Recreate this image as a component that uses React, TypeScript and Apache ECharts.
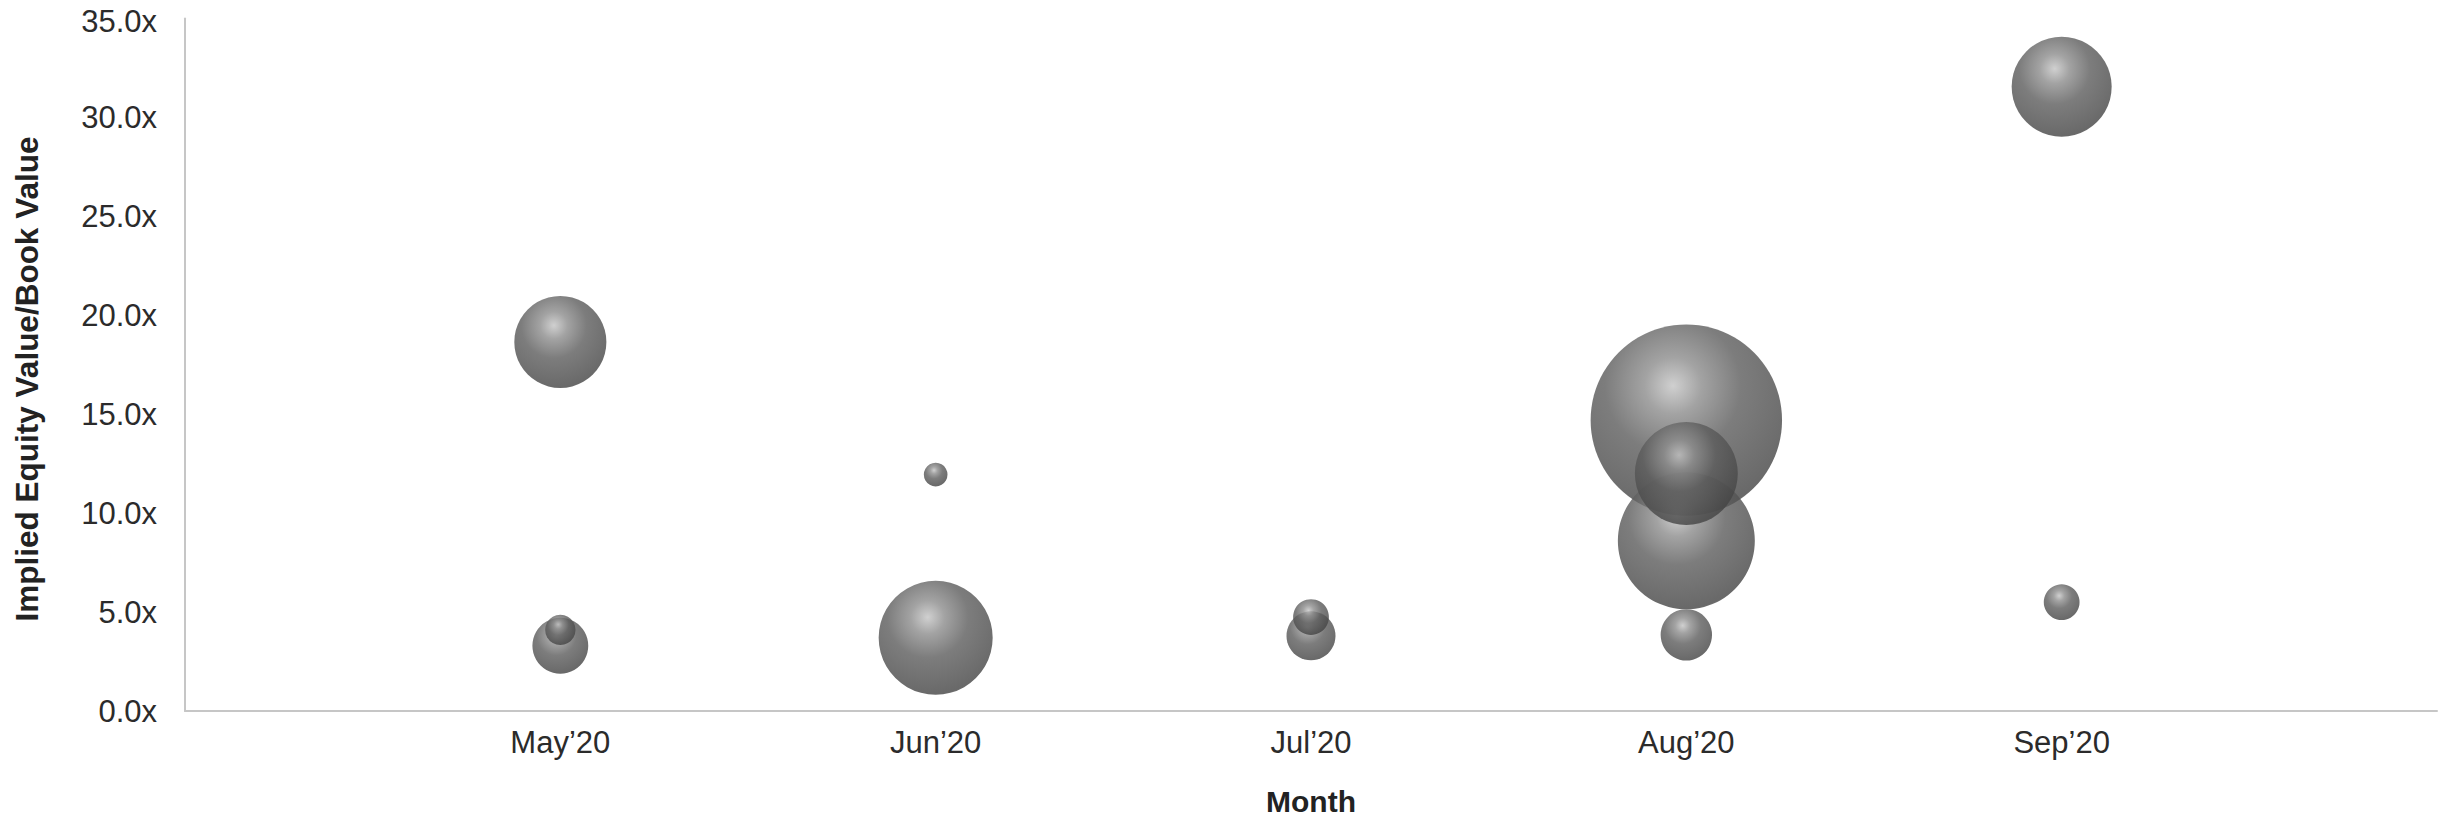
import React, { useEffect, useRef } from "react";
import * as echarts from "echarts";

// Month buckets shown along the horizontal axis
const months = ["May\u201920", "Jun\u201920", "Jul\u201920", "Aug\u201920", "Sep\u201920"];

// Each transaction: month position (1 = May'20), implied equity value / book value multiple, and bubble size
const dealMonth = [1, 1, 1, 2, 2, 3, 3, 4, 4, 4, 4, 5, 5];
const dealMultiple = [18.65, 3.3, 4.1, 11.95, 3.7, 4.75, 3.8, 14.7, 12.0, 8.6, 3.85, 31.55, 5.5];
const dealSize = [21.2, 7.8, 2.3, 1.4, 32.5, 3.2, 6.0, 91.6, 26.5, 46.9, 6.6, 25.0, 3.2];

// Y axis tick values
const yTicks = [0, 5, 10, 15, 20, 25, 30, 35];

const FONT = "'Liberation Sans', Arial, Helvetica, sans-serif";

export default function App() {
  const ref = useRef<HTMLDivElement>(null);

  useEffect(() => {
    if (!ref.current) return;
    const chart = echarts.init(ref.current, undefined, { renderer: "svg" });

    // draw the largest bubbles first so smaller ones stay visible on top
    const points = dealMonth
      .map((m, i) => [m, dealMultiple[i], dealSize[i]])
      .sort((a, b) => b[2] - a[2]);

    const sphere = new echarts.graphic.RadialGradient(0.43, 0.32, 0.74, [
      { offset: 0, color: "#c4c4c4" },
      { offset: 0.2, color: "#8c8c8c" },
      { offset: 0.48, color: "#5c5c5c" },
      { offset: 0.8, color: "#4a4a4a" },
      { offset: 0.92, color: "#434343" },
      { offset: 1, color: "#686868" },
    ]);

    const topTick = yTicks[yTicks.length - 1];
    const tickText = {
      fontFamily: FONT,
      fontSize: 31,
      color: "#2b2b2b",
    };

    chart.setOption({
      animation: false,
      backgroundColor: "#ffffff",
      grid: { left: 185, right: 0, top: 15, bottom: 106, containLabel: false },
      xAxis: {
        type: "value",
        min: 0,
        max: 6,
        interval: 1,
        name: "Month",
        nameLocation: "middle",
        nameGap: 76,
        nameTextStyle: {
          fontFamily: FONT,
          fontSize: 30,
          lineHeight: 28,
          fontWeight: "bold",
          color: "#222222",
        },
        axisLine: { show: true, lineStyle: { color: "#c6c6c6", width: 2 } },
        axisTick: { show: false },
        splitLine: { show: false },
        axisLabel: {
          margin: 16,
          ...tickText,
          formatter: (v: number) => months[v - 1] ?? "",
        },
      },
      yAxis: {
        type: "value",
        min: yTicks[0],
        max: topTick,
        interval: yTicks[1] - yTicks[0],
        axisLine: { show: true, lineStyle: { color: "#c6c6c6", width: 2 } },
        axisTick: { show: false },
        splitLine: { show: false },
        axisLabel: {
          margin: 28,
          ...tickText,
          lineHeight: 26,
          // the topmost label sits against the chart's upper edge, so it is nudged down slightly
          formatter: (v: number) =>
            v === topTick ? `{top|${v.toFixed(1)}x}` : v.toFixed(1) + "x",
          rich: {
            top: { ...tickText, lineHeight: 26, padding: [6, 0, 0, 0] },
          },
        },
      },
      graphic: [
        {
          type: "text",
          x: 27,
          y: 379,
          rotation: Math.PI / 2,
          style: {
            text: "Implied Equity Value/Book Value",
            fontFamily: FONT,
            fontSize: 31.5,
            fontWeight: "bold",
            fill: "#222222",
            align: "center",
            verticalAlign: "middle",
          },
        },
      ],
      series: [
        {
          type: "scatter",
          data: points,
          symbol: "circle",
          symbolSize: (d: number[]) => 20 * Math.sqrt(d[2]),
          itemStyle: { color: sphere, opacity: 0.8 },
          emphasis: { disabled: true },
        },
      ],
    });

    return () => chart.dispose();
  }, []);

  return (
    <div
      ref={ref}
      style={{ position: "fixed", left: 0, top: 0, width: 2440, height: 821 }}
    />
  );
}
